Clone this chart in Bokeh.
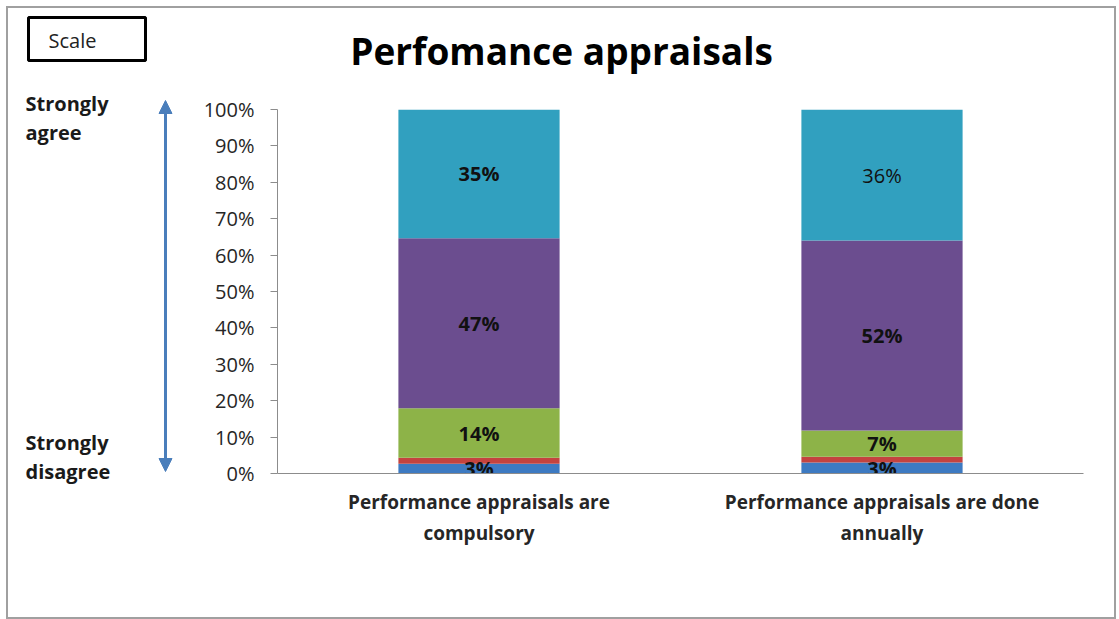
from bokeh.plotting import figure
from bokeh.layouts import row, column
from bokeh.models import (FactorRange, Range1d, Arrow, NormalHead,
                          ColumnDataSource, NumeralTickFormatter, FixedTicker)
from bokeh.core.properties import value
from bokeh.embed import file_html
from bokeh.resources import INLINE

categories = ["Performance appraisals are\ncompulsory",
              "Performance appraisals are done\nannually"]
strongly_disagree = [0.027, 0.030]
disagree = [0.016, 0.016]
neutral = [0.136, 0.072]
agree = [0.467, 0.522]
strongly_agree = [0.354, 0.360]
y_ticks = [0, 0.1, 0.2, 0.3, 0.4, 0.5, 0.6, 0.7, 0.8, 0.9, 1.0]

series = ["sd", "d", "n", "a", "sa"]
colors = ["#3d7ac2", "#c4433f", "#8db348", "#6b4d8f", "#31a0bf"]
FONT = "Open Sans"
TOP_H = 80
H = 529


def blank(width, height, xr, yr):
    f = figure(width=width, height=height, x_range=Range1d(*xr), y_range=Range1d(*yr),
               output_backend="svg", toolbar_location=None,
               x_axis_type=None, y_axis_type=None,
               min_border=0, min_border_left=0, min_border_right=0,
               min_border_top=0, min_border_bottom=0)
    f.frame_align = False
    f.grid.visible = False
    f.outline_line_color = None
    return f


# ---------------- top strip (scale box + title) --------------------------
top = blank(1106, TOP_H, (8, 1114), (8 + TOP_H, 8))
top.quad(left=[28], right=[145], top=[17], bottom=[60], fill_alpha=0,
         line_color="black", line_width=3)
top.text(x=[48], y=[40], text=["Scale"], text_font=value(FONT), text_font_size="20px",
         text_baseline="middle", text_color="#222222")
top.text(x=[561], y=[50], text=["Perfomance appraisals"], text_font=value(FONT),
         text_font_size="37px", text_font_style="bold", text_align="center",
         text_baseline="middle", text_color="black")

# ---------------- left panel (arrow, side texts) -------------------------
y0 = 8 + TOP_H
left = blank(182, H, (8, 190), (y0 + H, y0))
left.text(x=[25, 25, 25, 25], y=[103, 132, 442, 471],
          text=["Strongly", "agree", "Strongly", "disagree"],
          text_font=value(FONT), text_font_size="20px", text_font_style="bold",
          text_baseline="middle", text_color="#1a1a1a")
left.add_layout(Arrow(x_start=165, y_start=471, x_end=165, y_end=100,
                      line_color="#4a7ebb", line_width=3,
                      start=NormalHead(size=13, fill_color="#4a7ebb", line_color="#4a7ebb"),
                      end=NormalHead(size=13, fill_color="#4a7ebb", line_color="#4a7ebb")))

# ---------------- main chart --------------------------------------------
data = dict(cat=categories, sd=strongly_disagree, d=disagree, n=neutral,
            a=agree, sa=strongly_agree)
src = ColumnDataSource(data)

p = figure(width=924, height=H, x_range=FactorRange(*categories), y_range=(0, 1),
           output_backend="svg", toolbar_location=None,
           min_border_left=87, min_border_right=31, min_border_top=109 - y0,
           min_border_bottom=144)
p.frame_align = False
p.vbar_stack(series, x="cat", width=0.40, color=colors, source=src, line_color=None)

label_x, label_y, label_t, label_w = [], [], [], []
for i, c in enumerate(categories):
    base = 0.0
    for key, show in zip(series, [True, False, True, True, True]):
        v = data[key][i]
        if show:
            label_x.append(c)
            label_y.append(base + v / 2)
            label_t.append(f"{round(v * 100)}%")
            label_w.append("normal" if (i == 1 and key == "sa") else "bold")
        base += v
lsrc = ColumnDataSource(dict(x=label_x, y=label_y, t=label_t, w=label_w))
p.text(x="x", y="y", text="t", source=lsrc, text_align="center",
       text_baseline="middle", text_font=value(FONT), text_font_size="20px",
       text_font_style="w", text_color="#111111")

p.xgrid.grid_line_color = None
p.ygrid.grid_line_color = None
p.outline_line_color = None

p.yaxis.ticker = FixedTicker(ticks=y_ticks)
p.yaxis.formatter = NumeralTickFormatter(format="0%")
p.yaxis.minor_tick_line_color = None
p.yaxis.axis_line_color = "#8c8c8c"
p.yaxis.major_tick_line_color = "#8c8c8c"
p.yaxis.major_tick_out = 7
p.yaxis.major_tick_in = 0
p.yaxis.major_label_standoff = 16
p.yaxis.major_label_text_font = FONT
p.yaxis.major_label_text_font_size = "20px"
p.yaxis.major_label_text_color = "#262626"

p.xaxis.axis_line_color = "#8c8c8c"
p.xaxis.major_tick_line_color = None
p.xaxis.major_label_text_font = FONT
p.xaxis.major_label_text_font_size = "19px"
p.xaxis.major_label_text_font_style = "bold"
p.xaxis.major_label_text_color = "#262626"
p.xaxis.major_label_standoff = 9

layout = column(top, row(left, p), styles={"border": "2px solid #a0a0a0",
                                           "margin-left": "6px", "margin-top": "6px"})

open("out.html", "w").write(file_html(layout, INLINE))
